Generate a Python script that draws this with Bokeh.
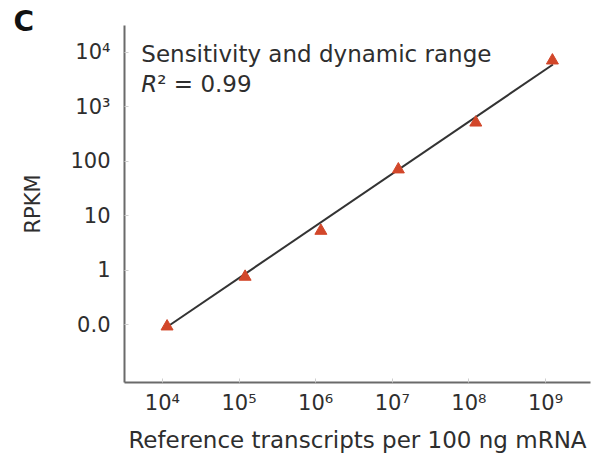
from bokeh.plotting import figure
from bokeh.models import Range1d, FixedTicker, Label, ColumnDataSource
from bokeh.embed import file_html
from bokeh.resources import INLINE

# Data
transcripts = [1.15e4, 1.2e5, 1.17e6, 1.2e7, 1.23e8, 1.23e9]
rpkm = [0.093, 0.76, 5.3, 71, 515, 7100]
fit_x = [1.12e4, 1.25e9]
fit_y = [0.089, 6000]

x_ticks = [1e4, 1e5, 1e6, 1e7, 1e8, 1e9]
x_labels = ["10⁴", "10⁵", "10⁶", "10⁷", "10⁸", "10⁹"]
y_ticks = [0.1, 1, 10, 100, 1000, 10000]
y_labels = ["0.0", "1", "10", "100", "10³", "10⁴"]

FONT = "DejaVu Sans"
TXT = "#2e2e2e"

p = figure(width=592, height=456, x_axis_type="log", y_axis_type="log",
           output_backend="svg", toolbar_location=None,
           x_range=Range1d(10**3.505, 10**9.587),
           y_range=Range1d(10**-2.06, 10**4.494),
           min_border_left=124, min_border_right=2, min_border_top=25,
           min_border_bottom=74)
p.outline_line_color = None
p.grid.visible = False
p.background_fill_color = "white"
p.border_fill_color = "white"

p.title.text = "C"
p.title.align = "left"
p.title.offset = -111
p.title.standoff = -25
p.title.text_font = FONT
p.title.text_font_size = "28px"
p.title.text_font_style = "bold"
p.title.text_color = "#111111"

for ax, ticks, labels in ((p.xaxis, x_ticks, x_labels), (p.yaxis, y_ticks, y_labels)):
    ax.ticker = FixedTicker(ticks=ticks)
    ax.major_label_overrides = {t: l for t, l in zip(ticks, labels)}
    ax.axis_line_color = "#6a6a6a"
    ax.axis_line_width = 2
    ax.major_tick_in = 4
    ax.major_tick_out = 0
    ax.major_tick_line_color = "#cfcfcf"
    ax.minor_tick_line_color = None
    ax.major_label_text_font = FONT
    ax.major_label_text_font_size = "21px"
    ax.major_label_text_color = TXT
    ax.axis_label_text_font = FONT
    ax.axis_label_text_font_size = "21px"
    ax.axis_label_text_font_style = "normal"
    ax.axis_label_text_color = TXT

p.xaxis.axis_label = "Reference transcripts per 100 ng mRNA"
p.xaxis.axis_label_text_font_size = "23px"
p.yaxis.axis_label = "RPKM"
p.xaxis.major_label_standoff = 8
p.yaxis.major_label_standoff = 14
p.xaxis.axis_label_standoff = 9
p.yaxis.axis_label_standoff = 22

p.line(fit_x, fit_y, line_color="#333333", line_width=2)
src = ColumnDataSource(dict(x=transcripts, y=rpkm))
p.scatter("x", "y", source=src, marker="triangle", size=12,
          fill_color="#d2472a", line_color="#d2472a")

p.add_layout(Label(x=5.3e3, y=9.2e3, text="Sensitivity and dynamic range",
                   text_font=FONT, text_font_size="23px", text_color=TXT,
                   text_baseline="alphabetic"))
p.add_layout(Label(x=5.3e3, y=2.6e3, text="R", text_font=FONT,
                   text_font_style="italic", text_font_size="23px",
                   text_color=TXT, text_baseline="alphabetic"))
p.add_layout(Label(x=5.3e3, y=2.6e3, x_offset=16, text="² = 0.99", text_font=FONT,
                   text_font_size="23px", text_color=TXT,
                   text_baseline="alphabetic"))

open("out.html", "w").write(file_html(p, INLINE))
